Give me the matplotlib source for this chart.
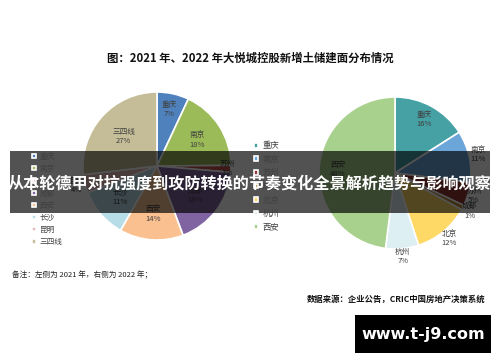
import matplotlib.pyplot as plt
import numpy as np
from matplotlib.patches import Rectangle

plt.rcParams['font.family'] = ['Noto Sans CJK SC', 'DejaVu Sans']

W, H = 500, 362

# 2021
cities21 = ['重庆', '南京', '苏州', '成都', '西安', '长沙', '昆明', '三四线']
share21 = [7, 18, 1.5, 18, 14, 11, 4, 27]
colors21 = ['#4F81BD', '#9BBB59', '#C0504D', '#8064A2', '#FAC090', '#B7DEE8', '#E6B9B8', '#C4BD97']
# 2022
cities22 = ['重庆', '南京', '苏州', '成都', '北京', '杭州', '西安']
share22 = [16, 11, 5, 1, 12, 7, 48]
colors22 = ['#46A1A5', '#6CA6D9', '#943634', '#B7822A', '#FFD966', '#DDEFF3', '#A9D18E']

def box(x, y, w, h):
    return [x / W, 1 - (y + h) / H, w / W, h / H]

fig = plt.figure(figsize=(5, 3.62), dpi=100)
fig.patch.set_facecolor('white')

fig.text(250 / W, 1 - 58 / H, '图：2021 年、2022 年大悦城控股新增土储建面分布情况',
         ha='center', va='center', fontsize=8.2, fontweight='bold', color='#111111')


def draw_pie(ax, vals, names, cols, pos):
    wedges, _ = ax.pie(vals, colors=cols, startangle=90, counterclock=False,
                       wedgeprops=dict(edgecolor='white', linewidth=1.2))
    ax.set_xlim(-1, 1)
    ax.set_ylim(-1, 1)
    ax.set_aspect('equal')
    ax.axis('off')
    tot = sum(vals)
    for w, v, n, d in zip(wedges, vals, names, pos):
        a = np.deg2rad((w.theta1 + w.theta2) / 2)
        ax.text(d * np.cos(a), d * np.sin(a), '%s\n%d%%' % (n, round(v / tot * 100)),
                ha='center', va='center', fontsize=5.5, color='#404040', linespacing=1.2)
    return wedges


ax1 = fig.add_axes(box(83, 92, 148, 148))
w1 = draw_pie(ax1, share21, cities21, colors21, [0.78, 0.65, 0.95, 0.65, 0.65, 0.65, 1.12, 0.6])
ax2 = fig.add_axes(box(319, 97, 152, 152))
w2 = draw_pie(ax2, share22, cities22, colors22, [0.8, 1.12, 1.08, 1.1, 1.12, 1.1, 0.75])

leg1 = fig.legend(w1, cities21, loc='upper left', bbox_to_anchor=(28 / W, 1 - 149 / H),
                  frameon=False, fontsize=5.5, handlelength=0.5, handleheight=0.5,
                  handletextpad=0.5, labelspacing=0.55, borderpad=0, labelcolor='#404040')
leg2 = fig.legend(w2, cities22, loc='upper left', bbox_to_anchor=(250 / W, 1 - 137 / H),
                  frameon=False, fontsize=6, handlelength=0.5, handleheight=0.5,
                  handletextpad=0.5, labelspacing=0.55, borderpad=0, labelcolor='#404040')

fig.text(12 / W, 1 - 275 / H, '备注：左侧为 2021 年，右侧为 2022 年；', ha='left', va='center',
         fontsize=5.5, color='#222222')
fig.text(485 / W, 1 - 299 / H, '数据来源：企业公告，CRIC中国房地产决策系统', ha='right', va='center',
         fontsize=6, fontweight='bold', color='#111111')

# banner
fig.patches.append(Rectangle((10 / W, 1 - 213 / H), 480 / W, 62 / H, transform=fig.transFigure,
                             facecolor='black', alpha=0.68, edgecolor='none', zorder=5))
fig.text(250 / W, 1 - 184 / H, '从本轮德甲对抗强度到攻防转换的节奏变化全景解析趋势与影响观察',
         ha='center', va='center', fontsize=11.6, fontweight='bold', color='white', zorder=6)

# watermark
fig.patches.append(Rectangle((355 / W, 1 - 353 / H), 136 / W, 38 / H, transform=fig.transFigure,
                             facecolor='black', edgecolor='none', zorder=5))
fig.text(423 / W, 1 - 334 / H, 'www.t-j9.com', ha='center', va='center', fontsize=11.5,
         fontweight='bold', color='white', family=['DejaVu Sans'], zorder=6)

fig.savefig('out.png', dpi=100, facecolor='white')
